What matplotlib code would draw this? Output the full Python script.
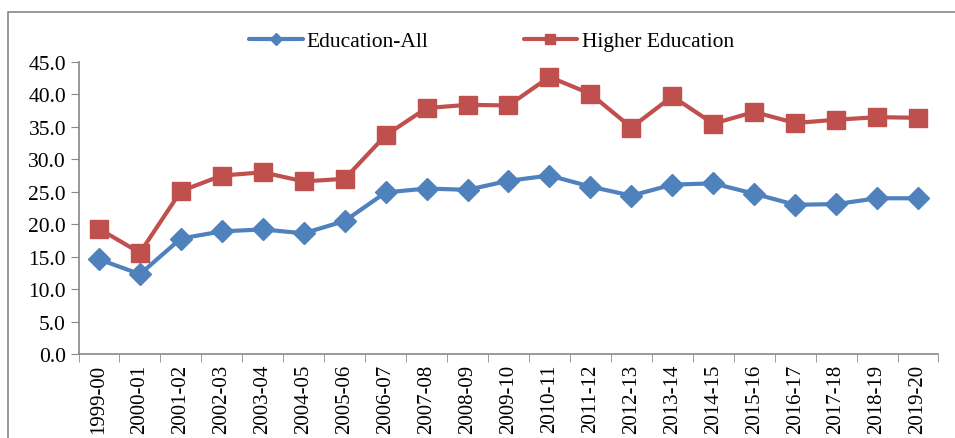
import matplotlib
matplotlib.use("Agg")
import matplotlib.pyplot as plt
from matplotlib.patches import Rectangle

categories = ["1999-00", "2000-01", "2001-02", "2002-03", "2003-04", "2004-05",
              "2005-06", "2006-07", "2007-08", "2008-09", "2009-10", "2010-11",
              "2011-12", "2012-13", "2013-14", "2014-15", "2015-16", "2016-17",
              "2017-18", "2018-19", "2019-20"]
education_all = [14.6, 12.3, 17.8, 18.9, 19.2, 18.6, 20.5, 24.9, 25.5, 25.3, 26.7,
                 27.5, 25.8, 24.4, 26.1, 26.3, 24.7, 23.0, 23.1, 24.0, 24.0]
higher_education = [19.3, 15.6, 25.1, 27.5, 28.0, 26.6, 27.0, 33.7, 37.9, 38.4, 38.3,
                    42.7, 40.1, 34.9, 39.7, 35.5, 37.3, 35.6, 36.1, 36.5, 36.4]
yticks = [0, 5, 10, 15, 20, 25, 30, 35, 40, 45]

plt.rcParams['font.family'] = ['Liberation Serif', 'DejaVu Serif']

fig = plt.figure(figsize=(9.55, 4.39), dpi=100)
ax = fig.add_axes([0.0822, 0.1913, 0.9005, 0.6652])

x = list(range(len(categories)))
ax.plot(x, education_all, color='#4F81BD', lw=3.0, marker='D', ms=11,
        label='Education-All', solid_capstyle='round')
ax.plot(x, higher_education, color='#C0504D', lw=3.0, marker='s', ms=13,
        label='Higher Education', solid_capstyle='round')

ax.set_xlim(-0.5, len(categories) - 0.5)
ax.set_ylim(0, 45)
ax.set_yticks(yticks)
ax.set_yticklabels([f"{v:.1f}" for v in yticks], fontsize=15.5)
ax.set_xticks(x)
ax.set_xticklabels(categories, rotation=90, fontsize=15)
ax.set_xticks([i - 0.5 for i in range(len(categories) + 1)], minor=True)
ax.tick_params(axis='x', which='major', length=0, pad=7)
ax.tick_params(axis='x', which='minor', length=6, color='#888888', direction='out')
ax.tick_params(axis='y', length=6, color='#888888', direction='out', pad=3)

for s in ['top', 'right']:
    ax.spines[s].set_visible(False)
for s in ['left', 'bottom']:
    ax.spines[s].set_color('#888888')
    ax.spines[s].set_linewidth(1.2)

ax.legend(loc='upper center', bbox_to_anchor=(0.48, 1.172), ncol=2, frameon=False,
          fontsize=15.5, handlelength=2.5, columnspacing=4.4, handletextpad=0.2,
          markerscale=0.6)

fig.patches.append(Rectangle((8 / 955, -0.1), 2.0, 0.1 + 1 - 13 / 439,
                             transform=fig.transFigure, fill=False,
                             edgecolor='#888888', lw=1.2))

fig.savefig("out.png", dpi=100)
